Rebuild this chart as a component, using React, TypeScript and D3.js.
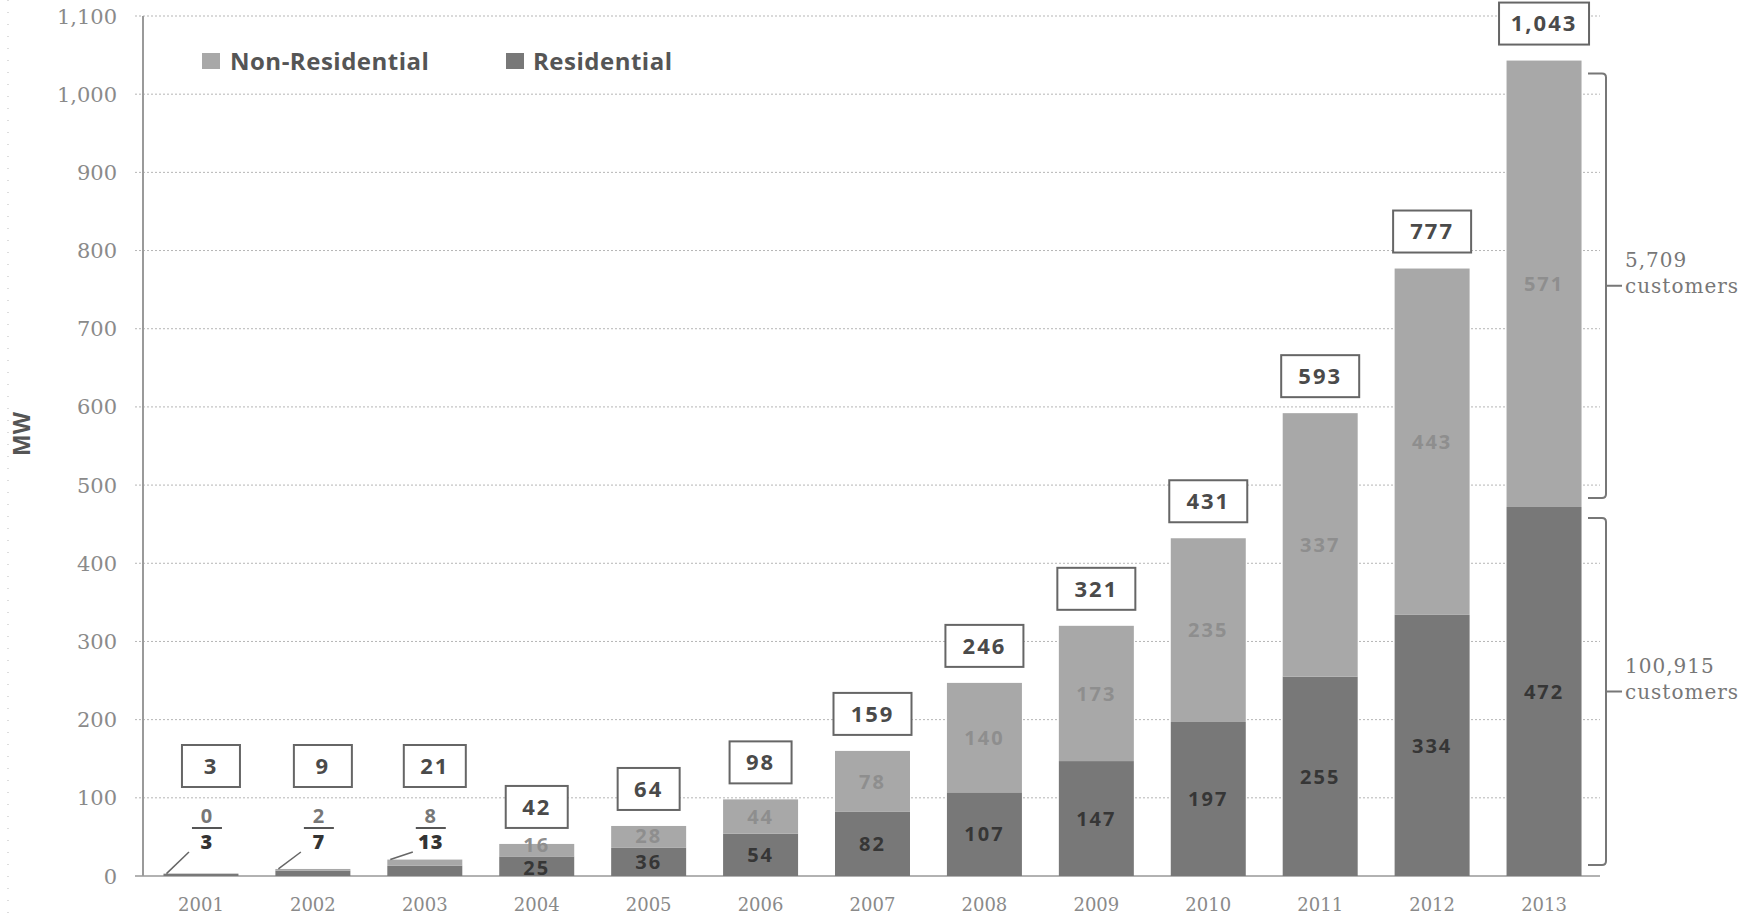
import React, { useEffect } from "react";
import * as d3 from "d3";

// MW installed per year
const years = ["2001", "2002", "2003", "2004", "2005", "2006", "2007", "2008", "2009", "2010", "2011", "2012", "2013"];
const residential = [3, 7, 13, 25, 36, 54, 82, 107, 147, 197, 255, 334, 472];
const nonResidential = [0, 2, 8, 16, 28, 44, 78, 140, 173, 235, 337, 443, 571];
const totals = [3, 9, 21, 42, 64, 98, 159, 246, 321, 431, 593, 777, 1043];
// years whose values are too small to print inside the bar
const calloutYears = ["2001", "2002", "2003"];
const yTicks = [0, 100, 200, 300, 400, 500, 600, 700, 800, 900, 1000, 1100];
const customerNotes = [
  { count: "5,709", label: "customers", segment: "non" },
  { count: "100,915", label: "customers", segment: "res" },
];

const W = 1750;
const H = 920;
const RES_COLOR = "#787878";
const NON_COLOR = "#a8a8a8";
const sans = "'Open Sans', Lato, sans-serif";
const serif = "'DejaVu Serif', serif";
const fmt = d3.format(",");

export default function App() {
  useEffect(() => {
    document.body.style.margin = "0";
  }, []);

  const x = d3.scaleBand<string>().domain(years).range([145, 1600]).paddingInner(0.33).paddingOuter(0.165);
  const y = d3.scaleLinear().domain([0, 1100]).range([876, 16]);
  const bw = x.bandwidth();
  const axisX = 143;
  const right = 1600;

  const boxWidth = (s: string) => {
    const digits = s.replace(/,/g, "").length;
    return Math.min(90, Math.max(58, digits * 16 + 30));
  };

  const last = years.length - 1;
  const bracketX = 1606;
  const lastTop = y(residential[last] + nonResidential[last]);
  const lastMid = y(residential[last]);

  return (
    <svg width={W} height={H} style={{ display: "block", background: "#fff" }}>
      {/* scan border dots */}
      <line x1={8} x2={8} y1={0} y2={H} stroke="#bbb" strokeDasharray="1,11" />

      {/* gridlines */}
      {yTicks.map((t) => (
        <g key={t}>
          <line
            x1={axisX - 8}
            x2={right}
            y1={y(t)}
            y2={y(t)}
            stroke={t === 0 ? "#999" : "#b5b5b5"}
            strokeWidth={t === 0 ? 1.5 : 1}
            strokeDasharray={t === 0 ? undefined : "2,2"}
          />
          <text
            x={117}
            y={y(t)}
            dy="0.36em"
            textAnchor="end"
            fontFamily={serif}
            fontSize={21}
            fill="#8a8a8a"
          >
            {fmt(t)}
          </text>
        </g>
      ))}
      <line x1={axisX} x2={axisX} y1={y(1100)} y2={y(0)} stroke="#9a9a9a" strokeWidth={2} />

      <text
        transform={`translate(22,434) rotate(-90)`}
        textAnchor="middle"
        dy="0.36em"
        fontFamily={sans}
        fontWeight={700}
        fontSize={23}
        fill="#555"
      >
        MW
      </text>

      {/* legend */}
      <rect x={202} y={53} width={18} height={16} fill={NON_COLOR} />
      <text x={230} y={61} dy="0.36em" fontFamily={sans} fontWeight={700} fontSize={24} letterSpacing={0.5} fill="#555">
        Non-Residential
      </text>
      <rect x={506} y={53} width={18} height={16} fill={RES_COLOR} />
      <text x={533} y={61} dy="0.36em" fontFamily={sans} fontWeight={700} fontSize={24} letterSpacing={0.5} fill="#555">
        Residential
      </text>

      {/* bars */}
      {years.map((yr, i) => {
        const x0 = x(yr)!;
        const cx = x0 + bw / 2;
        const res = residential[i];
        const non = nonResidential[i];
        const yRes = y(res);
        const yTop = y(res + non);
        const callout = calloutYears.includes(yr);
        const totalStr = fmt(totals[i]);
        const bwBox = boxWidth(totalStr);
        const boxCx = callout ? cx + 10 : cx;
        const boxCy = callout ? 766 : yTop - 37;
        const lx = cx + 6;
        const resLabelY = Math.max((y(0) + yRes) / 2, yRes + 11);
        const nonLabelY = Math.min((yRes + yTop) / 2, yRes - 12);
        return (
          <g key={yr}>
            <rect x={x0} y={yRes} width={bw} height={y(0) - yRes} fill={RES_COLOR} />
            <rect x={x0} y={yTop} width={bw} height={yRes - yTop} fill={NON_COLOR} />

            {callout ? (
              <g>
                <line x1={x0 + 3} y1={yTop} x2={lx - 18} y2={852} stroke="#666" strokeWidth={1.5} />
                <text x={lx} y={816} dy="0.36em" textAnchor="middle" fontFamily={sans} fontWeight={700} fontSize={20} letterSpacing={1} fill="#777">
                  {non}
                </text>
                <line x1={lx - 15} x2={lx + 15} y1={828} y2={828} stroke="#555" strokeWidth={2} />
                <text x={lx} y={842} dy="0.36em" textAnchor="middle" fontFamily={sans} fontWeight={800} fontSize={20} letterSpacing={1} fill="#333">
                  {res}
                </text>
              </g>
            ) : (
              <g fontFamily={sans} fontWeight={700} fontSize={20} letterSpacing={2} textAnchor="middle">
                <text x={cx} y={resLabelY} dy="0.36em" fill="#363636">
                  {res}
                </text>
                <text x={cx} y={nonLabelY} dy="0.36em" fill="#8e8e8e">
                  {non}
                </text>
              </g>
            )}

            <rect
              x={boxCx - bwBox / 2}
              y={boxCy - 21}
              width={bwBox}
              height={42}
              fill="#fff"
              stroke="#666"
              strokeWidth={2}
            />
            <text
              x={boxCx}
              y={boxCy}
              dy="0.36em"
              textAnchor="middle"
              fontFamily={sans}
              fontWeight={700}
              fontSize={22}
              letterSpacing={2}
              fill="#4a4a4a"
            >
              {totalStr}
            </text>

            <text x={cx} y={905} dy="0.36em" textAnchor="middle" fontFamily={serif} fontSize={18} fill="#8a8a8a">
              {yr}
            </text>
          </g>
        );
      })}

      {/* customer brackets on the 2013 bar */}
      {customerNotes.map((n) => {
        const top = n.segment === "non" ? lastTop + 13 : lastMid + 11;
        const bottom = n.segment === "non" ? lastMid - 9 : y(0) - 11;
        const mid = (top + bottom) / 2;
        const bx = bracketX;
        const path = `M${bx - 18},${top} L${bx - 4},${top} Q${bx},${top} ${bx},${top + 4} L${bx},${bottom - 4} Q${bx},${bottom} ${bx - 4},${bottom} L${bx - 18},${bottom} M${bx},${mid} L${bx + 16},${mid}`;
        return (
          <g key={n.count}>
            <path d={path} fill="none" stroke="#777" strokeWidth={2} />
            <text x={1625} y={mid - 26} dy="0.36em" fontFamily={serif} fontSize={20} letterSpacing={1} fill="#777">
              {n.count}
            </text>
            <text x={1625} y={mid} dy="0.36em" fontFamily={serif} fontSize={20} letterSpacing={1} fill="#777">
              {n.label}
            </text>
          </g>
        );
      })}
    </svg>
  );
}
